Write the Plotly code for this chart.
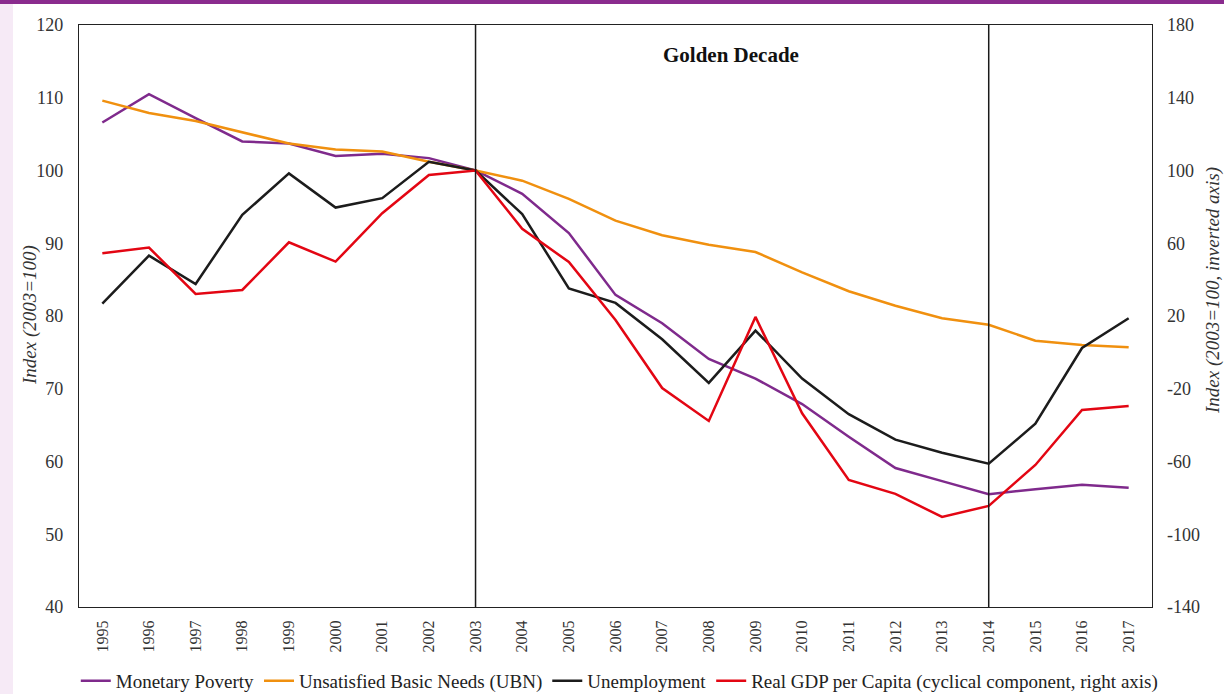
import plotly.graph_objects as go

years = [str(y) for y in range(1995, 2018)]

monetary_poverty = [106.6, 110.5, 107.2, 104.0, 103.7, 102.0, 102.3, 101.7, 100.0,
                    96.8, 91.4, 82.9, 79.0, 74.1, 71.4, 67.9, 63.4, 59.1, 57.3,
                    55.5, 56.2, 56.8, 56.4]
ubn = [109.6, 107.9, 106.8, 105.3, 103.7, 102.9, 102.6, 101.2, 100.0,
       98.6, 96.1, 93.1, 91.1, 89.8, 88.8, 86.0, 83.4, 81.4, 79.7,
       78.8, 76.6, 76.0, 75.7]
unemployment = [81.7, 88.3, 84.4, 93.9, 99.6, 94.9, 96.2, 101.2, 100.0,
                94.0, 83.8, 81.8, 76.8, 70.8, 78.0, 71.4, 66.5, 63.0, 61.2,
                59.7, 65.2, 75.6, 79.7]
gdp_cycle = [54.5, 57.6, 32.1, 34.3, 60.5, 49.9, 76.5, 97.5, 100.0,
             67.9, 49.7, 17.8, -19.6, -37.7, 19.5, -33.5, -70.1, -77.8, -90.5,
             -84.4, -61.9, -31.7, -29.5]

left_ticks = [40, 50, 60, 70, 80, 90, 100, 110, 120]
right_ticks = [-140, -100, -60, -20, 20, 60, 100, 140, 180]
marker_years = ["2003", "2014"]

FONT = "Liberation Serif"
C_PURPLE = "#7f2a8c"
C_ORANGE = "#f0900f"
C_BLACK = "#1c1c1c"
C_RED = "#e30613"
TXT = "#333333"

fig = go.Figure()
fig.add_trace(go.Scatter(x=years, y=monetary_poverty, mode="lines", name="Monetary Poverty",
                         line=dict(color=C_PURPLE, width=2.5)))
fig.add_trace(go.Scatter(x=years, y=ubn, mode="lines", name="Unsatisfied Basic Needs (UBN)",
                         line=dict(color=C_ORANGE, width=2.5)))
fig.add_trace(go.Scatter(x=years, y=unemployment, mode="lines", name="Unemployment",
                         line=dict(color=C_BLACK, width=2.5)))
fig.add_trace(go.Scatter(x=years, y=gdp_cycle, mode="lines",
                         name="Real GDP per Capita (cyclical component, right axis)",
                         line=dict(color=C_RED, width=2.5), yaxis="y2"))

# vertical markers at 2003 and 2014 (category index positions)
for yr in marker_years:
    idx = years.index(yr)
    fig.add_shape(type="line", xref="x", yref="paper", x0=idx, x1=idx, y0=0, y1=1,
                  line=dict(color="#1a1a1a", width=1.5), layer="above")

# page decoration: top purple bar and lavender left strip
L, R, T, B = 79, 72, 25, 87
W, H = 1224, 694
pw, ph = W - L - R, H - T - B
fig.add_shape(type="rect", xref="paper", yref="paper",
              x0=-L / pw, x1=(13 - L) / pw, y0=-B / ph, y1=1 + T / ph,
              fillcolor="#f6eaf6", line=dict(width=0), layer="below")
fig.add_shape(type="rect", xref="paper", yref="paper",
              x0=-L / pw, x1=1 + R / pw, y0=1 + (T - 4) / ph, y1=1 + T / ph,
              fillcolor="#8a2b8e", line=dict(width=0), layer="below")

fig.add_annotation(x=(731 - L) / pw, y=1 - (55 - T) / ph, xref="paper", yref="paper",
                   xanchor="center", yanchor="middle",
                   text="<b>Golden Decade</b>", showarrow=False,
                   font=dict(family=FONT, size=21, color="#111111"))
fig.add_annotation(x=(30 - L) / pw, y=1 - (315 - T) / ph, xref="paper", yref="paper",
                   xanchor="center", yanchor="middle",
                   text="<i>Index (2003=100)</i>", showarrow=False, textangle=-90,
                   font=dict(family=FONT, size=19, color=TXT))
fig.add_annotation(x=(1213 - L) / pw, y=1 - (291 - T) / ph, xref="paper", yref="paper",
                   xanchor="center", yanchor="middle",
                   text="<i>Index (2003=100, inverted axis)</i>", showarrow=False, textangle=-90,
                   font=dict(family=FONT, size=19, color=TXT))

fig.update_layout(
    width=W, height=H,
    margin=dict(l=L, r=R, t=T, b=B, autoexpand=False),
    paper_bgcolor="white", plot_bgcolor="white",
    font=dict(family=FONT, size=16, color=TXT),
    showlegend=True,
    legend=dict(orientation="h", x=-0.003, y=-(681 - 607) / ph, xanchor="left",
                yanchor="middle",
                font=dict(family=FONT, size=19, color="#222222"),
                itemwidth=30, tracegroupgap=0),
    xaxis=dict(type="category", range=[-0.5, len(years) - 0.5], tickangle=-90,
               showgrid=False, ticks="", automargin=False, ticklabelstandoff=6,
               showline=True, linecolor="#222222", linewidth=1.2, mirror=True,
               tickfont=dict(family=FONT, size=16, color=TXT)),
    yaxis=dict(range=[40, 120], tickvals=left_ticks, ticktext=[str(v) for v in left_ticks],
               showgrid=False, zeroline=False, ticks="", automargin=False,
               ticklabelstandoff=11,
               showline=True, linecolor="#222222", linewidth=1.2, mirror=True,
               tickfont=dict(family=FONT, size=18, color=TXT)),
    yaxis2=dict(range=[-140, 180], tickvals=right_ticks, ticktext=[str(v) for v in right_ticks],
                overlaying="y", side="right", automargin=False, ticklabelstandoff=14,
                showgrid=False, zeroline=False, ticks="", showline=False,
                tickfont=dict(family=FONT, size=18, color=TXT)),
)

fig.write_html("out.html", config={"displayModeBar": False},
               post_script="document.body.style.margin='0';")
